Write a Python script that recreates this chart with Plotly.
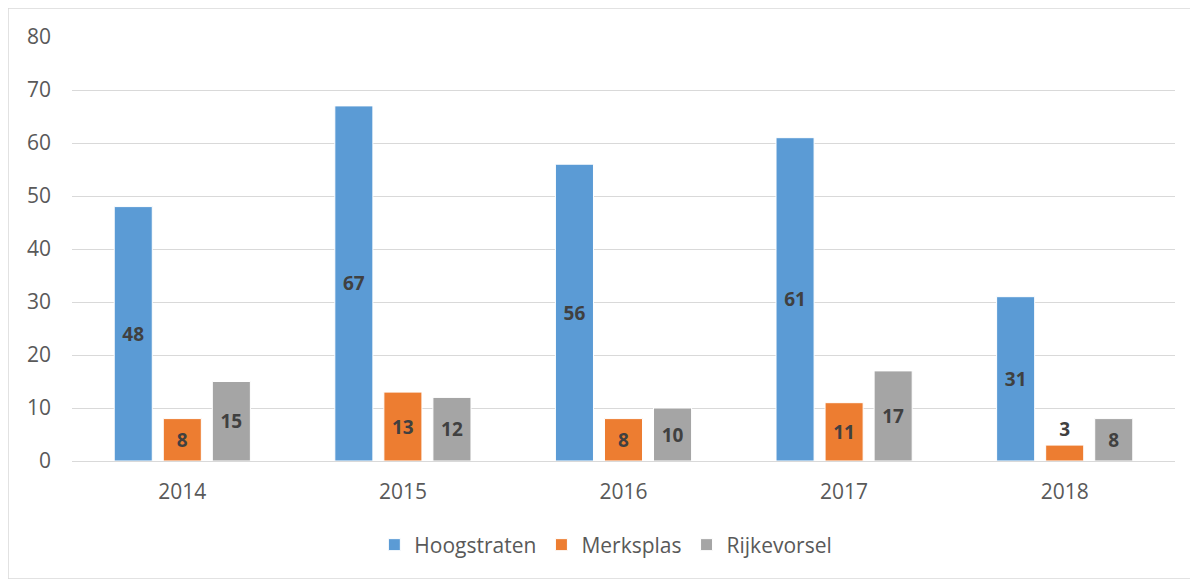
import plotly.graph_objects as go

years = ["2014", "2015", "2016", "2017", "2018"]
hoogstraten = [48, 67, 56, 61, 31]
merksplas = [8, 13, 8, 11, 3]
rijkevorsel = [15, 12, 10, 17, 8]

series = [
    ("Hoogstraten", hoogstraten, "#5B9BD5"),
    ("Merksplas", merksplas, "#ED7D31"),
    ("Rijkevorsel", rijkevorsel, "#A5A5A5"),
]

FONT = "Open Sans, Liberation Sans, sans-serif"

fig = go.Figure()
for name, vals, col in series:
    fig.add_trace(go.Bar(
        name=name, x=years, y=vals,
        marker=dict(color=col, line=dict(color="white", width=1)),
        text=[str(v) for v in vals],
        textposition=["outside" if v < 5 else "inside" for v in vals],
        insidetextanchor="middle",
        constraintext="none", textangle=0,
        textfont=dict(family=FONT, size=19, color="#404040", weight="bold"),
        cliponaxis=False,
    ))

# page body has an 8px margin, so figure coords = screen coords - 8
L, R, T, B = 64, 31, 29, 126
W, H = 1198, 579
pw, ph = W - L - R, H - T - B

def px(x): return (x - L) / pw
def py(y): return (H - B - y) / ph

fig.update_layout(
    width=W, height=H,
    margin=dict(l=L, r=R, t=T, b=B),
    paper_bgcolor="white", plot_bgcolor="white",
    barmode="group", bargap=0.333, bargroupgap=0.224,
    font=dict(family=FONT, color="#595959", size=21),
    showlegend=True,
    legend=dict(orientation="h", x=0.484, xanchor="center", y=py(537), yanchor="middle",
                font=dict(size=21, color="#595959"), itemwidth=30, traceorder="normal"),
    xaxis=dict(showgrid=False, showline=False, zeroline=False, ticks="",
               tickfont=dict(size=21, color="#595959"), ticklabelstandoff=16),
    yaxis=dict(range=[0, 80], dtick=10, showgrid=True, gridcolor="#D9D9D9", gridwidth=1,
               zeroline=True, zerolinecolor="#D9D9D9", zerolinewidth=1, showline=False,
               ticks="", tickfont=dict(size=21, color="#595959"), ticklabelstandoff=20),
    shapes=[dict(type="rect", xref="paper", yref="paper",
                 x0=px(0), x1=px(1189), y0=py(571), y1=py(0),
                 line=dict(color="#D9D9D9", width=1.5), layer="below")],
)

fig.write_html("out.html")
